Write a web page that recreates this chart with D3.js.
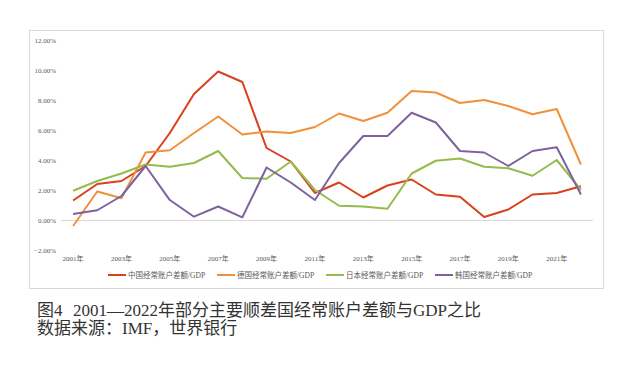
<!DOCTYPE html>
<html>
<head>
<meta charset="utf-8">
<script src="https://cdn.jsdelivr.net/npm/d3@7"></script>
<style>
  body { margin: 0; background: #fff; }
  svg text { font-family: "Liberation Serif", "Noto Sans CJK SC", serif; }
  .axis text { fill: #595959; font-size: 7px; }
  .legend text { fill: #595959; font-size: 7.5px; }
  .caption { fill: #333; font-size: 17px; }
</style>
</head>
<body>
<div id="chart"></div>
<script>
const years = d3.range(2001, 2023);
const yTicks = [-0.02, 0, 0.02, 0.04, 0.06, 0.08, 0.10, 0.12];

const china   = [1.3, 2.4, 2.6, 3.6, 5.8, 8.4, 9.9, 9.2, 4.8, 3.9, 1.8, 2.5, 1.5, 2.3, 2.7, 1.7, 1.55, 0.2, 0.7, 1.7, 1.8, 2.25];
const germany = [-0.4, 1.9, 1.45, 4.5, 4.65, 5.8, 6.9, 5.7, 5.9, 5.8, 6.2, 7.1, 6.6, 7.15, 8.6, 8.5, 7.8, 8.0, 7.6, 7.05, 7.4, 3.7];
const japan   = [1.95, 2.6, 3.1, 3.7, 3.55, 3.8, 4.6, 2.8, 2.75, 3.9, 2.0, 0.95, 0.9, 0.75, 3.1, 3.95, 4.1, 3.55, 3.45, 2.95, 4.0, 2.0];
const korea   = [0.4, 0.65, 1.6, 3.6, 1.33, 0.22, 0.9, 0.18, 3.5, 2.5, 1.33, 3.8, 5.6, 5.6, 7.15, 6.5, 4.6, 4.5, 3.6, 4.6, 4.85, 1.7];

const seriesNames = ["中国经常账户差额/GDP", "德国经常账户差额/GDP", "日本经常账户差额/GDP", "韩国经常账户差额/GDP"];
const seriesColors = ["#d9401c", "#f0913a", "#94bb4c", "#7e62a0"];
const seriesValues = [china, germany, japan, korea];

const width = 634, height = 375;
const svg = d3.select("#chart").append("svg")
  .attr("width", width)
  .attr("height", height);

// chart frame
svg.append("rect")
  .attr("x", 29.5).attr("y", 30.5)
  .attr("width", 574).attr("height", 258)
  .attr("fill", "#fff")
  .attr("stroke", "#d9d9d9");

const x = d3.scaleBand()
  .domain(years)
  .range([61, 593]);

const y = d3.scaleLinear()
  .domain([-0.02, 0.12])
  .range([250, 40]);

// y axis labels
const yAxis = d3.axisLeft(y)
  .tickValues(yTicks)
  .tickSize(0)
  .tickPadding(5)
  .tickFormat(d3.format(".2%"));

svg.append("g")
  .attr("class", "axis")
  .attr("transform", "translate(61,0)")
  .call(yAxis)
  .call(g => g.select(".domain").remove());

// zero line
svg.append("line")
  .attr("x1", x.range()[0]).attr("x2", x.range()[1])
  .attr("y1", y(0) + 0.5).attr("y2", y(0) + 0.5)
  .attr("stroke", "#d9d9d9");

// x axis labels, every other year
const xAxis = d3.axisBottom(x)
  .tickValues(years.filter((d, i) => i % 2 === 0))
  .tickSize(0)
  .tickPadding(0)
  .tickFormat(d => d + "年");

svg.append("g")
  .attr("class", "axis")
  .attr("transform", "translate(0,256)")
  .call(xAxis)
  .call(g => g.select(".domain").remove());

const line = d3.line()
  .x((d, i) => x(years[i]) + x.bandwidth() / 2)
  .y(d => y(d / 100));

seriesValues.forEach((vals, k) => {
  svg.append("path")
    .datum(vals)
    .attr("fill", "none")
    .attr("stroke", seriesColors[k])
    .attr("stroke-width", 2)
    .attr("stroke-linejoin", "round")
    .attr("d", line);
});

// legend
const legend = svg.append("g").attr("class", "legend");
const legendX = [108, 217, 326, 435];
seriesNames.forEach((name, k) => {
  const g = legend.append("g").attr("transform", `translate(${legendX[k]},275)`);
  g.append("line")
    .attr("x1", 0).attr("x2", 18)
    .attr("stroke", seriesColors[k])
    .attr("stroke-width", 2);
  g.append("text")
    .attr("x", 20)
    .attr("dy", "0.35em")
    .text(name);
});

// caption
const cap = svg.append("text")
  .attr("class", "caption")
  .attr("x", 37).attr("y", 316);
cap.append("tspan").text("图4");
cap.append("tspan").attr("x", 73).text("2001—2022年部分主要顺差国经常账户差额与GDP之比");
svg.append("text")
  .attr("class", "caption")
  .attr("x", 37).attr("y", 334)
  .text("数据来源：IMF，世界银行");
</script>
</body>
</html>
